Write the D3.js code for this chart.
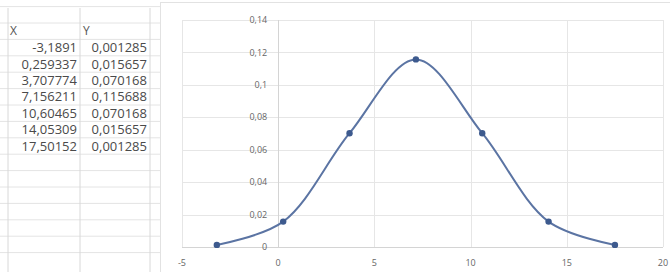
<!DOCTYPE html>
<html>
<head>
    <title>Normal curve</title>
    <script src="https://d3js.org/d3.v7.min.js"></script>
    <style>
        body { margin: 0; background: #fff; }
        text { font-family: "Open Sans", sans-serif; }
    </style>
</head>
<body>
    <div id="chart"></div>

    <script>
        const xValues = [-3.1891, 0.259337, 3.707774, 7.156211, 10.60465, 14.05309, 17.50152];
        const yValues = [0.001285, 0.015657, 0.070168, 0.115688, 0.070168, 0.015657, 0.001285];
        const headers = ["X", "Y"];
        const xTicks = [-5, 0, 5, 10, 15, 20];
        const yTicks = [0, 0.02, 0.04, 0.06, 0.08, 0.1, 0.12, 0.14];

        const W = 670, H = 272;
        const comma = v => String(v).replace(".", ",");

        const svg = d3.select("#chart").append("svg")
            .attr("width", W)
            .attr("height", H);

        // spreadsheet grid on the left
        const rowH = 16.4;
        const rowTop = 23;
        const cols = [8, 80, 150];
        const sheet = svg.append("g");
        d3.range(-1, 15).forEach(i => {
            sheet.append("line")
                .attr("x1", 0).attr("x2", 160)
                .attr("y1", rowTop + i * rowH).attr("y2", rowTop + i * rowH)
                .attr("stroke", "#e4e4e4");
        });
        cols.forEach(c => {
            sheet.append("line")
                .attr("x1", c).attr("x2", c)
                .attr("y1", 8).attr("y2", H)
                .attr("stroke", "#d8d8d8");
        });

        sheet.append("text").attr("x", 10).attr("y", rowTop + rowH / 2)
            .attr("dy", "0.35em").attr("font-size", 12).attr("fill", "#555").text(headers[0]);
        sheet.append("text").attr("x", 83).attr("y", rowTop + rowH / 2)
            .attr("dy", "0.35em").attr("font-size", 12).attr("fill", "#555").text(headers[1]);

        xValues.forEach((v, i) => {
            const cy = rowTop + (i + 1.5) * rowH;
            sheet.append("text").attr("x", 77).attr("y", cy)
                .attr("dy", "0.35em").attr("text-anchor", "end")
                .attr("font-size", 13).attr("fill", "#4a4a4a").text(comma(v));
            sheet.append("text").attr("x", 147).attr("y", cy)
                .attr("dy", "0.35em").attr("text-anchor", "end")
                .attr("font-size", 13).attr("fill", "#4a4a4a").text(comma(yValues[i]));
        });

        // chart area border
        svg.append("rect")
            .attr("x", 160.5).attr("y", 2.5)
            .attr("width", W).attr("height", H)
            .attr("fill", "#fff")
            .attr("stroke", "#e2e2e2");

        const xScale = d3.scaleLinear().domain([-5, 20]).range([182, 663]);
        const yScale = d3.scaleLinear().domain([0, 0.14]).range([247, 20]);

        // gridlines
        svg.append("g")
            .selectAll("line")
            .data(yTicks)
            .enter()
            .append("line")
            .attr("x1", xScale(-5)).attr("x2", xScale(20))
            .attr("y1", d => Math.round(yScale(d)) + 0.5)
            .attr("y2", d => Math.round(yScale(d)) + 0.5)
            .attr("stroke", d => d === 0 ? "#d4d4d4" : "#e6e6e6");

        svg.append("g")
            .selectAll("line")
            .data(xTicks)
            .enter()
            .append("line")
            .attr("x1", d => Math.round(xScale(d)) + 0.5)
            .attr("x2", d => Math.round(xScale(d)) + 0.5)
            .attr("y1", yScale(0.14)).attr("y2", yScale(0))
            .attr("stroke", d => d === 0 ? "#d4d4d4" : "#e6e6e6");

        // tick labels
        svg.append("g")
            .selectAll("text")
            .data(yTicks)
            .enter()
            .append("text")
            .attr("x", xScale(0) - 11)
            .attr("y", d => yScale(d))
            .attr("dy", "0.35em")
            .attr("text-anchor", "end")
            .attr("font-size", 9)
            .attr("fill", "#666")
            .text(d => comma(+d.toFixed(2)));

        svg.append("g")
            .selectAll("text")
            .data(xTicks)
            .enter()
            .append("text")
            .attr("x", d => xScale(d))
            .attr("y", yScale(0) + 16)
            .attr("dy", "0.35em")
            .attr("text-anchor", "middle")
            .attr("font-size", 9)
            .attr("fill", "#666")
            .text(d => d);

        // smoothed series
        const points = xValues.map((x, i) => [x, yValues[i]]);
        const line = d3.line()
            .x(d => xScale(d[0]))
            .y(d => yScale(d[1]))
            .curve(d3.curveCatmullRom.alpha(0.5));

        svg.append("path")
            .datum(points)
            .attr("d", line)
            .attr("fill", "none")
            .attr("stroke", "#5b74a3")
            .attr("stroke-width", 2);

        svg.selectAll("circle.pt")
            .data(points)
            .enter()
            .append("circle")
            .attr("class", "pt")
            .attr("cx", d => xScale(d[0]))
            .attr("cy", d => yScale(d[1]))
            .attr("r", 3.2)
            .attr("fill", "#3d5a8e");
    </script>
</body>
</html>
